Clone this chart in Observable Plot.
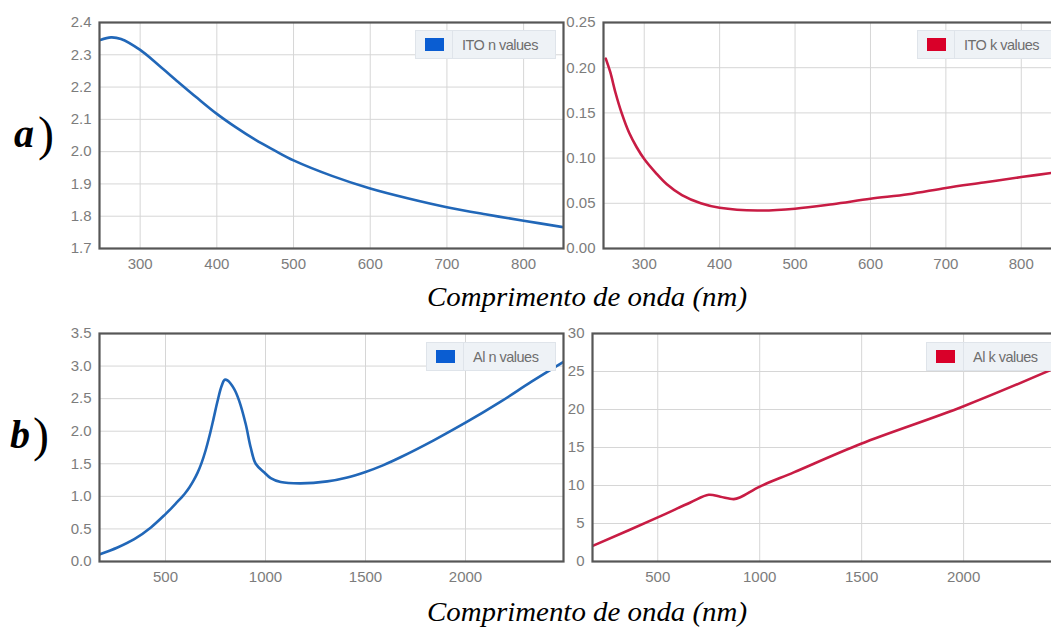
<!DOCTYPE html>
<html>
<head>
<meta charset="utf-8">
<script src="https://cdn.jsdelivr.net/npm/d3@7"></script>
<script src="https://cdn.jsdelivr.net/npm/@observablehq/plot@0.6"></script>
<style>
  html, body { margin: 0; padding: 0; background: #fff; }
  #wrap { position: relative; width: 1051px; height: 628px; overflow: hidden; background: #fff; }
  .panel { position: absolute; }
  .legend { position: absolute; height: 29px; background: #eef2f6; border: 1px solid #dfe4ea; box-sizing: border-box;
            font-family: "Liberation Sans", Arial, sans-serif; font-size: 14.5px; color: #6e6e6e; display: flex; align-items: center; }
  .legend .sw { width: 19px; height: 13px; margin: 0 8px 0 9px; }
  .legend .div { width: 1px; align-self: stretch; background: #dfe4ea; margin-right: 9px; }
  .legend .tx { white-space: nowrap; letter-spacing: -0.5px; }
  svg.anno { position: absolute; left: 0; top: 0; pointer-events: none; }
</style>
</head>
<body>
<div id="wrap"></div>
<script>
// ---------- data ----------
const itoNWavelength = [248, 262, 275, 300, 325, 350, 375, 400, 425, 450, 475, 500, 550, 600, 650, 700, 750, 800, 852];
const itoNValues     = [2.346, 2.354, 2.349, 2.315, 2.266, 2.215, 2.165, 2.117, 2.075, 2.037, 2.004, 1.973, 1.925, 1.886, 1.855, 1.828, 1.806, 1.786, 1.766];

const itoKWavelength = [249, 255, 262, 270, 280, 290, 300, 315, 330, 350, 375, 400, 450, 500, 550, 600, 650, 700, 750, 800, 852];
const itoKValues     = [0.210, 0.195, 0.172, 0.150, 0.128, 0.112, 0.099, 0.084, 0.071, 0.059, 0.050, 0.045, 0.042, 0.044, 0.049, 0.055, 0.060, 0.067, 0.073, 0.079, 0.085];

const alNWavelength = [172, 260, 344, 427, 500, 530, 560, 585, 600, 620, 640, 660, 680, 700, 720, 740, 760, 780, 796, 810, 843, 868, 901, 926, 951, 993, 1026, 1076, 1176, 1309, 1409, 1500, 1590, 1675, 1841, 2000, 2174, 2330, 2488];
const alNValues     = [0.11, 0.215, 0.343, 0.523, 0.728, 0.82, 0.918, 1.0, 1.055, 1.14, 1.24, 1.36, 1.51, 1.70, 1.93, 2.19, 2.46, 2.69, 2.79, 2.78, 2.65, 2.47, 2.11, 1.75, 1.50, 1.37, 1.28, 1.22, 1.20, 1.23, 1.29, 1.375, 1.48, 1.60, 1.86, 2.13, 2.45, 2.76, 3.06];

const alKWavelength = [181, 500, 660, 750, 807, 873, 905, 1000, 1167, 1497, 1997, 2480];
const alKValues     = [2.05, 5.8, 7.77, 8.78, 8.52, 8.21, 8.45, 9.85, 11.73, 15.5, 20.4, 25.8];

const xTicksITO = [300, 400, 500, 600, 700, 800];
const xTicksAl  = [500, 1000, 1500, 2000];
const yTicksITOn = [1.7, 1.8, 1.9, 2.0, 2.1, 2.2, 2.3, 2.4];
const yTicksITOk = [0, 0.05, 0.10, 0.15, 0.20, 0.25];
const yTicksAln  = [0, 0.5, 1.0, 1.5, 2.0, 2.5, 3.0, 3.5];
const yTicksAlk  = [0, 5, 10, 15, 20, 25, 30];

const legendLabels = ["ITO n values", "ITO k values", "Al n values", "Al k values"];
const axisCaption = "Comprimento de onda (nm)";

// ---------- styles ----------
const BLUE = "#2167b8", RED = "#c81c44";
const BLUE_SW = "#0a5dd2", RED_SW = "#d90029";
const wrap = document.getElementById("wrap");

function panel({wl, vals, color, xDomain, xTicks, yDomain, yTicks, yFmt, left, top, width, height, mL, mT, mB}) {
  const data = wl.map((w, i) => ({w, v: vals[i]}));
  const xFmt = d3.format("d");
  const p = Plot.plot({
    width, height,
    marginLeft: mL, marginRight: 2, marginTop: mT, marginBottom: mB,
    style: {fontFamily: "'Liberation Sans', Arial, sans-serif", fontSize: "15px", color: "#7c7c7c", background: "transparent", overflow: "visible"},
    x: {domain: xDomain, label: null},
    y: {domain: yDomain, label: null},
    marks: [
      Plot.gridX(xTicks, {stroke: "#d6d6d6", strokeOpacity: 1, strokeWidth: 1}),
      Plot.gridY(yTicks, {stroke: "#d6d6d6", strokeOpacity: 1, strokeWidth: 1}),
      Plot.line(data, {x: "w", y: "v", stroke: color, strokeWidth: 2.6, curve: "catmull-rom", clip: true}),
      Plot.frame({stroke: "#565656", strokeWidth: 2.2}),
      Plot.axisX({ticks: xTicks, tickSize: 0, tickPadding: 10, tickFormat: xFmt, label: null, fontSize: 15}),
      Plot.axisY({ticks: yTicks, tickSize: 0, tickPadding: 8, tickFormat: yFmt, label: null, fontSize: 15})
    ]
  });
  p.classList.add("panel");
  p.style.left = left + "px";
  p.style.top = top + "px";
  wrap.appendChild(p);
}

// a) left: ITO n
panel({wl: itoNWavelength, vals: itoNValues, color: BLUE, xDomain: [247, 852], xTicks: xTicksITO,
       yDomain: [1.7, 2.4], yTicks: yTicksITOn, yFmt: d3.format(".1f"),
       left: 0, top: 0, width: 565, height: 290, mL: 99, mT: 22, mB: 42});
// a) right: ITO k
panel({wl: itoKWavelength, vals: itoKValues, color: RED, xDomain: [246, 852], xTicks: xTicksITO,
       yDomain: [0, 0.25], yTicks: yTicksITOk, yFmt: d3.format(".2f"),
       left: 540, top: 0, width: 63 + 457 + 2, height: 290, mL: 63, mT: 22, mB: 42});
// b) left: Al n
panel({wl: alNWavelength, vals: alNValues, color: BLUE, xDomain: [170, 2490], xTicks: xTicksAl,
       yDomain: [0, 3.5], yTicks: yTicksAln, yFmt: d3.format(".1f"),
       left: 0, top: 311, width: 565, height: 292, mL: 99, mT: 22, mB: 42});
// b) right: Al k
panel({wl: alKWavelength, vals: alKValues, color: RED, xDomain: [180, 2480], xTicks: xTicksAl,
       yDomain: [0, 30], yTicks: yTicksAlk, yFmt: d3.format("d"),
       left: 540, top: 311, width: 52 + 469 + 2, height: 292, mL: 52, mT: 22, mB: 42});

// ---------- legends ----------
function legend(label, color, x, y, w) {
  const d = document.createElement("div");
  d.className = "legend";
  d.style.left = x + "px"; d.style.top = y + "px"; d.style.width = w + "px";
  d.innerHTML = `<div class="sw" style="background:${color}"></div><div class="div"></div><div class="tx">${label}</div>`;
  wrap.appendChild(d);
}
legend(legendLabels[0], BLUE_SW, 415, 30, 141);
legend(legendLabels[1], RED_SW, 917, 30, 140);
legend(legendLabels[2], BLUE_SW, 426, 342, 130);
legend(legendLabels[3], RED_SW, 926, 342, 130);

// ---------- annotations ----------
const ns = "http://www.w3.org/2000/svg";
const svg = document.createElementNS(ns, "svg");
svg.setAttribute("class", "anno");
svg.setAttribute("width", 1051); svg.setAttribute("height", 628);
function txt(s, x, y, attrs) {
  const t = document.createElementNS(ns, "text");
  t.textContent = s;
  t.setAttribute("x", x); t.setAttribute("y", y);
  for (const k in attrs) t.setAttribute(k, attrs[k]);
  svg.appendChild(t);
  return t;
}
const serif = "'Liberation Serif', 'Times New Roman', serif";
txt("a", 14, 147, {"font-family": serif, "font-style": "italic", "font-weight": "bold", "font-size": 40});
txt(")", 38, 150, {"font-family": serif, "font-size": 48});
txt("b", 10, 448, {"font-family": serif, "font-style": "italic", "font-weight": "bold", "font-size": 40});
txt(")", 33, 451, {"font-family": serif, "font-size": 48});
txt(axisCaption, 427, 306, {"font-family": serif, "font-style": "italic", "font-size": 28, "textLength": 320, "lengthAdjust": "spacingAndGlyphs"});
txt(axisCaption, 427, 621, {"font-family": serif, "font-style": "italic", "font-size": 28, "textLength": 320, "lengthAdjust": "spacingAndGlyphs"});
wrap.appendChild(svg);
</script>
</body>
</html>
